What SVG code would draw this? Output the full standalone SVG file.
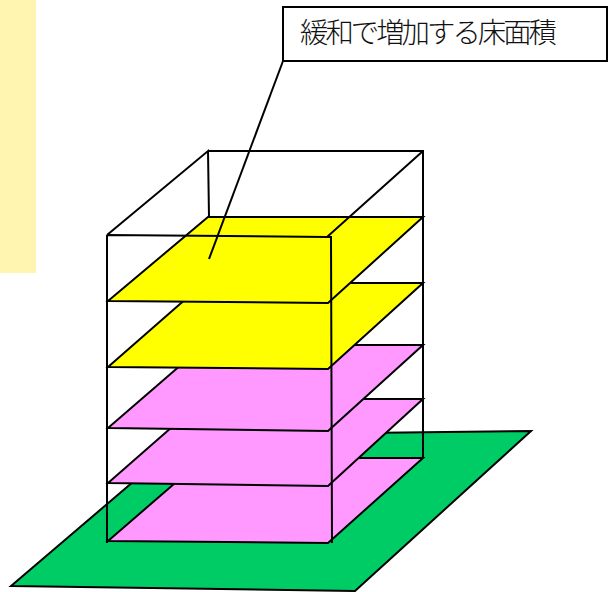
<svg xmlns="http://www.w3.org/2000/svg" width="616" height="592" viewBox="0 0 616 592">
<style>
.e{stroke:#000;stroke-width:2;stroke-linejoin:miter;fill:none}
.f{stroke:#000;stroke-width:2;stroke-linejoin:miter}
.y{fill:#ffff00}.p{fill:#ff99ff}.g{fill:#00cc66}
text{font-family:"Noto Sans CJK JP","Liberation Sans",sans-serif;font-size:28.4px;font-weight:300;fill:#111}
</style>
<rect width="616" height="592" fill="#fff"/>
<rect id="side-panel" x="0" y="0" width="36" height="273" fill="#fff5b0"/>
<g id="site"><polygon class="f g" points="11,586 355,591 531,431 188,435"/></g>
<g id="frame-back"><path class="e" d="M208,151H423V458M107,235L208,151L209,217"/></g>
<g id="floor-1"><polygon class="f p" points="108,541 328,543 423,458 204,458"/></g>
<g id="floor-2"><polygon class="f p" points="108,483 328,486 423,399 204,399"/></g>
<g id="floor-3"><polygon class="f p" points="108,428 328,431 423,345 204,345"/></g>
<g id="floor-4"><polygon class="f y" points="108,367 328,369 423,283 204,283"/></g>
<g id="floor-5"><polygon class="f y" points="108,301 328,303 423,217 208,217"/></g>
<g id="frame-front"><path class="e" d="M107,235L327,237L423,151M327,237H331L332,543M107,235V543"/></g>
<g id="callout">
<rect x="283" y="7" width="324" height="54" fill="#fff" stroke="#000" stroke-width="2"/>
<text x="300" y="43" textLength="257">緩和で増加する床面積</text>
</g>
<g id="connectors"><line class="e" x1="283" y1="61" x2="209" y2="259"/></g>
</svg>
